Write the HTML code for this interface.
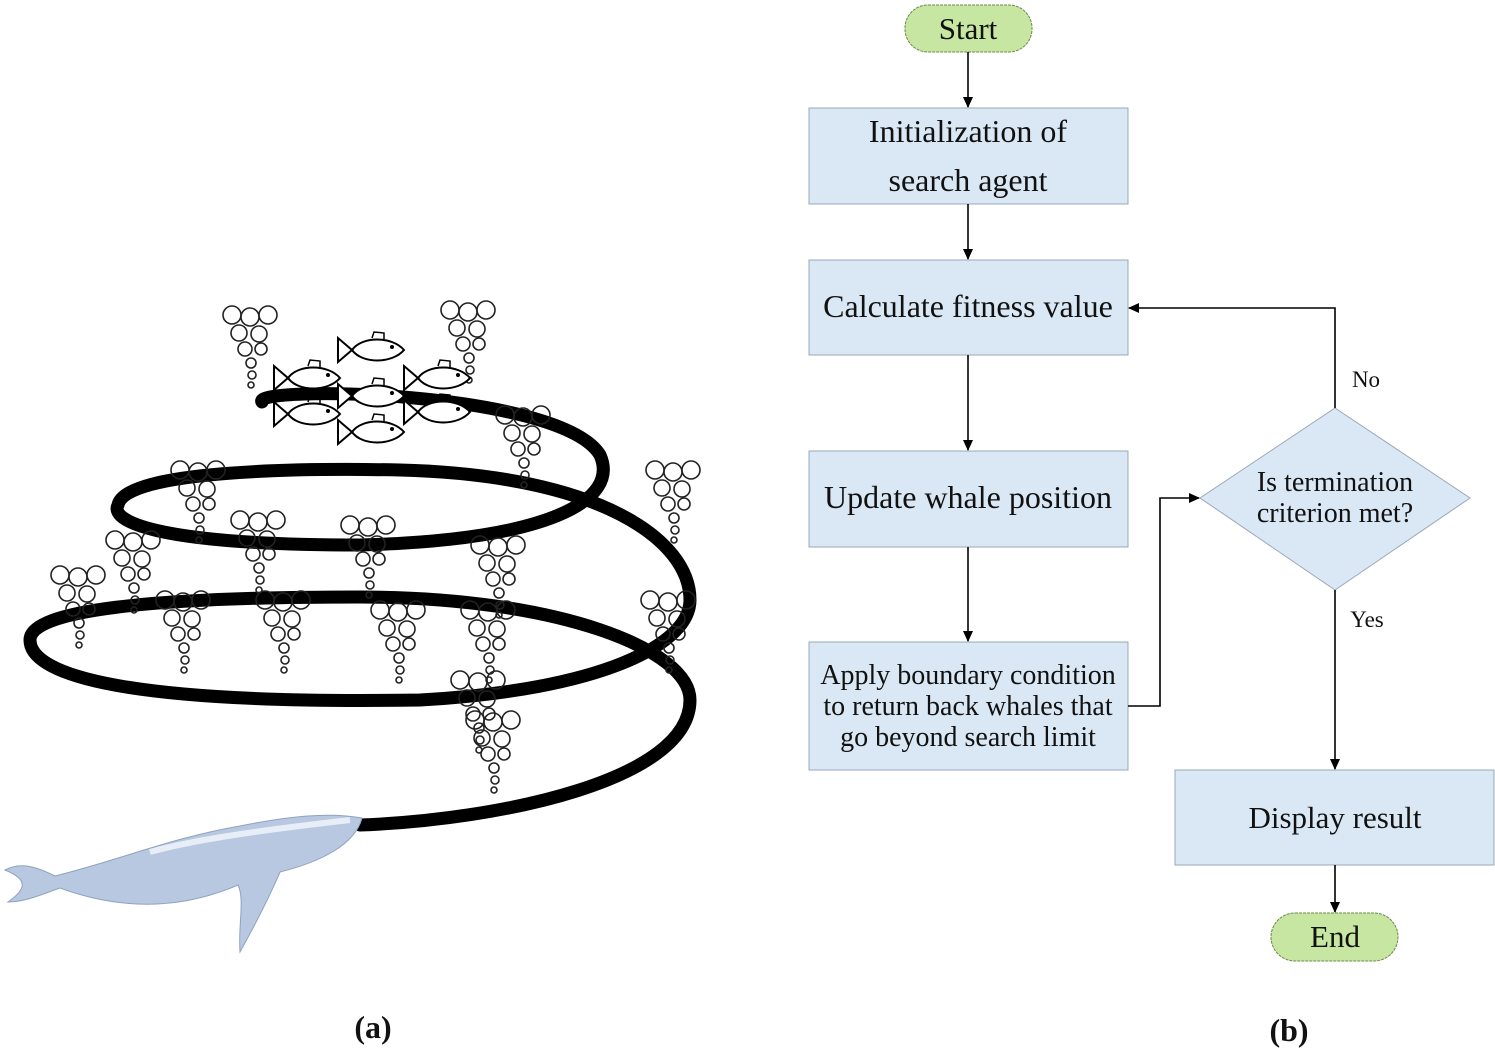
<!DOCTYPE html>
<html><head><meta charset="utf-8"><style>
html,body{margin:0;padding:0;background:#fff;}
svg{display:block;}
text{font-family:"Liberation Serif",serif;fill:#111;}
</style></head><body>
<svg width="1495" height="1050" viewBox="0 0 1495 1050" xmlns="http://www.w3.org/2000/svg">
<defs>
<marker id="ah" markerWidth="12" markerHeight="12" refX="10" refY="5" orient="auto" markerUnits="userSpaceOnUse">
<path d="M0,0 L11,5 L0,10 z" fill="#000"/>
</marker>
<g id="bub" fill="none" stroke="#222" stroke-width="1.6">
<circle cx="0" cy="0" r="9"/><circle cx="18" cy="2" r="9"/><circle cx="36" cy="0" r="9"/>
<circle cx="7" cy="18" r="8"/><circle cx="27" cy="19" r="8"/>
<circle cx="13" cy="34" r="7"/><circle cx="29" cy="34" r="6"/>
<circle cx="19" cy="48" r="5"/><circle cx="20" cy="60" r="4"/><circle cx="19" cy="70" r="3"/>
</g>
<g id="fish">
<path d="M0,0 C10,-14 40,-14 52,0 C40,14 10,14 0,0 z" fill="#fff" stroke="#000" stroke-width="2"/>
<path d="M0,0 L-14,-12 L-14,12 z" fill="#fff" stroke="#000" stroke-width="2"/>
<circle cx="40" cy="-3" r="2" fill="#000"/>
<path d="M20,-12 L22,-18 L32,-17 L32,-11" fill="none" stroke="#000" stroke-width="1.5"/>
</g>
</defs>

<path d="M262,402 C250,385 560,390 600,455 C620,500 550,540 360,545 C150,545 110,520 118,505 C125,470 300,468 400,470 C600,475 690,540 690,600 C690,645 600,690 420,700 C100,705 30,670 30,640 C30,610 150,597 360,597 C560,597 690,650 690,700 C690,780 500,820 360,825" fill="none" stroke="#000" stroke-width="13" stroke-linecap="round"/>

<use href="#bub" x="232" y="315"/>
<use href="#bub" x="450" y="310"/>
<use href="#bub" x="505" y="415"/>
<use href="#bub" x="655" y="470"/>
<use href="#bub" x="180" y="470"/>
<use href="#bub" x="240" y="520"/>
<use href="#bub" x="350" y="525"/>
<use href="#bub" x="115" y="540"/>
<use href="#bub" x="480" y="545"/>
<use href="#bub" x="60" y="575"/>
<use href="#bub" x="165" y="600"/>
<use href="#bub" x="265" y="600"/>
<use href="#bub" x="380" y="610"/>
<use href="#bub" x="470" y="610"/>
<use href="#bub" x="650" y="600"/>
<use href="#bub" x="460" y="680"/>
<use href="#bub" x="475" y="720"/>

<use href="#fish" x="352" y="350"/>
<use href="#fish" x="288" y="378"/>
<use href="#fish" x="418" y="378"/>
<use href="#fish" x="352" y="396"/>
<use href="#fish" x="288" y="414"/>
<use href="#fish" x="418" y="412"/>
<use href="#fish" x="352" y="432"/>

<path d="M5,870 C20,862 35,866 55,876 C120,860 170,838 240,826 C290,816 330,812 362,818 C355,845 320,862 280,872 C268,900 255,925 240,952 C238,925 245,900 238,885 C180,910 120,910 60,888 C40,895 25,902 8,902 C25,890 30,880 5,870 z" fill="#b8c8e0" stroke="#8fa2c0" stroke-width="1"/>
<path d="M150,852 C200,838 280,828 350,820" fill="none" stroke="#e8eef8" stroke-width="6"/>

<rect x="905" y="5" width="127" height="47" rx="23" fill="#c7e6a1" stroke="#6a8a4a" stroke-width="1" stroke-dasharray="3,1"/>
<text x="968" y="39" font-size="31" text-anchor="middle">Start</text>

<g fill="#dae8f5" stroke="#9aa8b8" stroke-width="1">
<rect x="809" y="108" width="319" height="96"/>
<rect x="809" y="260" width="319" height="95"/>
<rect x="809" y="451" width="319" height="96"/>
<rect x="809" y="642" width="319" height="128"/>
<rect x="1175" y="770" width="319" height="95"/>
<polygon points="1335,408 1470,498 1335,590 1200,498"/>
</g>
<text x="968" y="142" font-size="32" text-anchor="middle">Initialization of</text>
<text x="968" y="191" font-size="32" text-anchor="middle">search agent</text>
<text x="968" y="317" font-size="32" text-anchor="middle">Calculate fitness value</text>
<text x="968" y="508" font-size="32" text-anchor="middle">Update whale position</text>
<text x="968" y="684" font-size="28" text-anchor="middle">Apply boundary condition</text>
<text x="968" y="715" font-size="28" text-anchor="middle">to return back whales that</text>
<text x="968" y="746" font-size="28" text-anchor="middle">go beyond search limit</text>
<text x="1335" y="491" font-size="28" text-anchor="middle">Is termination</text>
<text x="1335" y="522" font-size="28" text-anchor="middle">criterion met?</text>
<text x="1335" y="828" font-size="31" text-anchor="middle">Display result</text>

<rect x="1271" y="913" width="127" height="48" rx="24" fill="#c7e6a1" stroke="#6a8a4a" stroke-width="1" stroke-dasharray="3,1"/>
<text x="1335" y="947" font-size="31" text-anchor="middle">End</text>

<g stroke="#000" stroke-width="1.6" fill="none" marker-end="url(#ah)">
<line x1="968" y1="52" x2="968" y2="107"/>
<line x1="968" y1="204" x2="968" y2="259"/>
<line x1="968" y1="355" x2="968" y2="450"/>
<line x1="968" y1="547" x2="968" y2="641"/>
<polyline points="1128,706 1160,706 1160,498 1199,498"/>
<polyline points="1335,408 1335,308 1129,308"/>
<line x1="1335" y1="590" x2="1335" y2="769"/>
<line x1="1335" y1="865" x2="1335" y2="912"/>
</g>
<text x="1366" y="387" font-size="23" text-anchor="middle">No</text>
<text x="1367" y="627" font-size="23" text-anchor="middle">Yes</text>

<text x="373" y="1038" font-size="32" font-weight="bold" text-anchor="middle">(a)</text>
<text x="1289" y="1041" font-size="32" font-weight="bold" text-anchor="middle">(b)</text>
</svg>
</body></html>
